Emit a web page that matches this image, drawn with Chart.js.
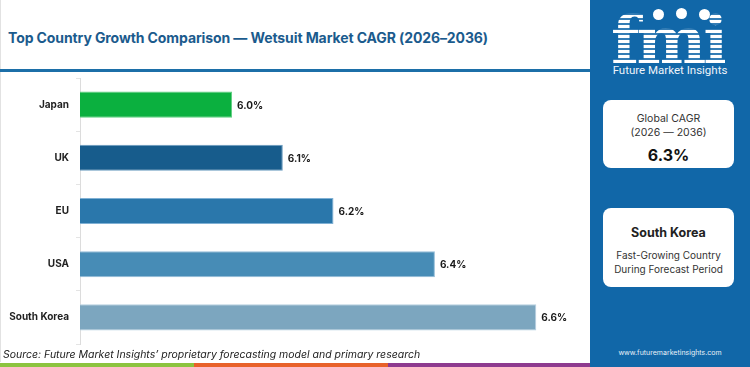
<!DOCTYPE html>
<html>
<head>
<meta charset="utf-8">
<script src="https://cdn.jsdelivr.net/npm/chart.js@4.4.1/dist/chart.umd.min.js"></script>
<style>
    body { margin: 0; width: 750px; height: 367px; overflow: hidden; background: #fff; font-family: Inter, "Open Sans", sans-serif; position: relative; }
    .title { position: absolute; left: 8px; top: 29px; font-size: 14px; font-weight: 700; color: #1b5b8d; white-space: nowrap; letter-spacing: -0.1px; }
    .rule { position: absolute; left: 0; top: 69px; width: 590px; height: 3px; background: #1c6fa8; }
    .left-border { position: absolute; left: 0; top: 0; width: 1px; height: 362px; background: #e2e2e2; }
    #wrap { position: absolute; left: 0; top: 65px; width: 590px; height: 292px; }
    .source { position: absolute; left: 3px; top: 348px; font-size: 10.5px; font-style: italic; color: #222; white-space: nowrap; }
    .strip { position: absolute; top: 363px; height: 4px; }
    .panel { position: absolute; left: 590px; top: 0; width: 160px; height: 367px; background: #1167a8; color: #fff; }
    .logo { position: absolute; left: 21px; top: 10px; font-family: "DejaVu Serif", serif; font-weight: 700; font-size: 66px; line-height: 60px; letter-spacing: -3px;
        background: repeating-linear-gradient(to bottom, #fff 0 3px, rgba(255,255,255,0.15) 3px 5px); -webkit-background-clip: text; background-clip: text; color: transparent; }
    .dot { position: absolute; width: 11px; height: 11px; border-radius: 50%; background: #fff; }
    .brand { position: absolute; left: 0; width: 160px; top: 63px; text-align: center; font-family: Roboto, sans-serif; font-size: 11.5px; color: #eef4fa; }
    .box { position: absolute; left: 13px; width: 131px; background: #fff; border-radius: 8px; color: #333; text-align: center; }
    .url { position: absolute; left: 0; width: 160px; top: 348px; text-align: center; font-size: 7px; color: #e8f0f8; }
</style>
</head>
<body>
<div class="left-border"></div>
<div class="title">Top Country Growth Comparison — Wetsuit Market CAGR (2026–2036)</div>
<div class="rule"></div>
<div id="wrap"><canvas id="chart"></canvas></div>
<div class="source">Source: Future Market Insights’ proprietary forecasting model and primary research</div>
<div class="strip" style="left:0;width:194px;background:#8cc43f"></div>
<div class="strip" style="left:194px;width:194px;background:#e8622a"></div>
<div class="strip" style="left:388px;width:202px;background:#8e3a8f"></div>

<div class="panel">
    <div class="dot" style="left:63px;top:9px"></div>
    <div class="dot" style="left:86px;top:8px"></div>
    <div class="dot" style="left:109px;top:9px"></div>
    <div class="logo">fmi</div>
    <div class="brand">Future Market Insights</div>
    <div class="box" style="top:100px;height:68px">
        <div style="font-size:10.5px;margin-top:12px;line-height:14px">Global CAGR<br>(2026 — 2036)</div>
        <div style="font-size:16px;font-weight:700;color:#111;margin-top:5px">6.3%</div>
    </div>
    <div class="box" style="top:208px;height:79px">
        <div style="font-size:12.5px;font-weight:700;color:#222;margin-top:17px">South Korea</div>
        <div style="font-size:10px;margin-top:8px;line-height:14px">Fast-Growing Country<br>During Forecast Period</div>
    </div>
    <div class="url">www.futuremarketinsights.com</div>
</div>

<script>
const countries = ['Japan', 'UK', 'EU', 'USA', 'South Korea']
const cagr = [6.0, 6.1, 6.2, 6.4, 6.6]
const barColors = ['#0bb03f', '#175c8c', '#2a77ab', '#478cb6', '#7ca6bf']
const borderColors = ['#5fcf80', '#6b9cc0', '#7fb0d4', '#93bcd8', '#b5cfe0']

// labels after the bar ends
const valueLabels = {
    id: 'valueLabels',
    afterDatasetsDraw(chart) {
        const ctx = chart.ctx
        const meta = chart.getDatasetMeta(0)
        ctx.save()
        ctx.font = '700 10px Inter, sans-serif'
        ctx.fillStyle = '#1a1a1a'
        ctx.textAlign = 'left'
        ctx.textBaseline = 'middle'
        meta.data.forEach((bar, i) => {
            ctx.fillText(cagr[i].toFixed(1) + '%', bar.x + 5, bar.y + 1)
        })
        ctx.restore()
    }
}

new Chart(document.getElementById('chart'), {
    type: 'bar',
    data: {
        labels: countries,
        datasets: [{
            data: cagr,
            backgroundColor: barColors,
            borderColor: borderColors,
            borderWidth: 1,
            barPercentage: 0.49,
            categoryPercentage: 1
        }]
    },
    options: {
        indexAxis: 'y',
        responsive: true,
        maintainAspectRatio: false,
        animation: false,
        layout: { padding: { top: 0, bottom: 0, right: 3, left: 0 } },
        plugins: { legend: { display: false }, tooltip: { enabled: false } },
        scales: {
            x: { display: false, min: 5.7, max: 6.7 },
            y: {
                afterFit: scale => { scale.width = 80 },
                border: { color: '#dcdcdc' },
                grid: { drawOnChartArea: false, drawTicks: true, tickLength: 4, color: '#e4e4e4', offset: true },
                ticks: { color: '#222', padding: 7, font: { family: 'Inter', size: 10, weight: '700' } }
            }
        }
    },
    plugins: [valueLabels]
})
</script>
</body>
</html>
